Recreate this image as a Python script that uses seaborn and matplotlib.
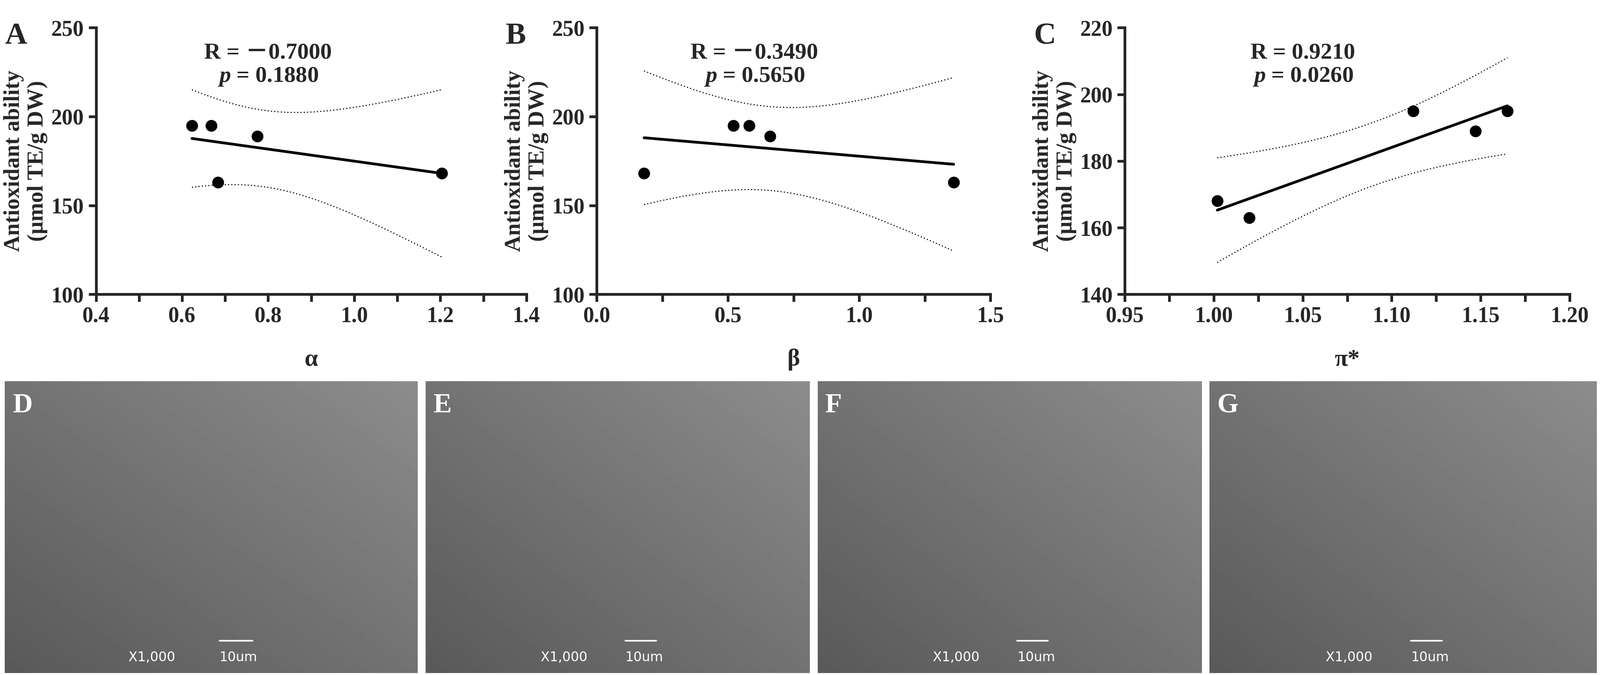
import numpy as np
import matplotlib
matplotlib.use("Agg")
import matplotlib.pyplot as plt
import seaborn as sns

sns.set_style("ticks")
plt.rcParams['font.family'] = ['Liberation Serif', 'Noto Sans CJK SC', 'DejaVu Serif']
plt.rcParams['font.weight'] = 'bold'
plt.rcParams['mathtext.fontset'] = 'custom'
plt.rcParams['mathtext.it'] = 'Liberation Serif:italic:bold'
plt.rcParams['mathtext.rm'] = 'Liberation Serif:bold'

y_vals = [195, 195, 189, 163, 168]
alpha_x = [0.623, 0.668, 0.775, 0.683, 1.203]
beta_x = [0.52, 0.58, 0.66, 1.36, 0.18]
pi_x = [1.112, 1.165, 1.147, 1.020, 1.002]
panels = [
    ("A", alpha_x, "α", (0.4, 1.4), [0.4, 0.6, 0.8, 1.0, 1.2, 1.4], "{:.1f}", (100, 250), [100, 150, 200, 250], "R = －0.7000", "0.1880"),
    ("B", beta_x, "β", (0.0, 1.5), [0.0, 0.5, 1.0, 1.5], "{:.1f}", (100, 250), [100, 150, 200, 250], "R = －0.3490", "0.5650"),
    ("C", pi_x, "π*", (0.95, 1.20), [0.95, 1.00, 1.05, 1.10, 1.15, 1.20], "{:.2f}", (140, 220), [140, 160, 180, 200, 220], "R = 0.9210", "0.0260"),
]
rects = [(0.060, 0.269), (0.373, 0.246), (0.703, 0.278)]

fig = plt.figure(figsize=(40.6, 17.14), dpi=100)
for (lab, x, xl, xlim, xt, fmt, ylim, yt, rtxt, ptxt), (l, w) in zip(panels, rects):
    ax = fig.add_axes([l, 0.564, w, 0.395])
    x = np.array(x); y = np.array(y_vals, float)
    sns.regplot(x=x, y=y, ax=ax, ci=None, color="black",
                scatter_kws=dict(s=420, zorder=3, alpha=1), line_kws=dict(lw=5))
    n = len(x); b, a = np.polyfit(x, y, 1)
    xs = np.linspace(x.min(), x.max(), 100)
    res = y - (a + b * x); s = np.sqrt(np.sum(res**2) / (n - 2))
    se = s * np.sqrt(1 / n + (xs - x.mean())**2 / np.sum((x - x.mean())**2))
    t = 3.182
    ax.plot(xs, a + b * xs + t * se, ls=(0, (1, 2)), color="black", lw=2)
    ax.plot(xs, a + b * xs - t * se, ls=(0, (1, 2)), color="black", lw=2)
    ax.set_xlim(xlim); ax.set_ylim(ylim)
    ax.set_xticks(xt); ax.set_xticklabels([fmt.format(v) for v in xt])
    ax.set_yticks(yt)
    ax.xaxis.set_minor_locator(matplotlib.ticker.AutoMinorLocator(2))
    ax.tick_params(labelsize=40, width=5, length=14, pad=8)
    ax.tick_params(which='minor', width=5, length=14)
    sns.despine(ax=ax)
    for sp in ax.spines.values():
        sp.set_linewidth(5)
    ax.set_xlabel(xl, fontsize=44, fontweight='bold', labelpad=40)
    ax.set_ylabel("Antioxidant ability\n(μmol TE/g DW)", fontsize=41, fontweight='bold', labelpad=6)
    ax.text(0.40, 0.86, rtxt + "\n" + r"$p$ = " + ptxt, transform=ax.transAxes,
            ha='center', va='center', fontsize=42, fontweight='bold', linespacing=1.2)
    fig.text(l - 0.057, 0.935, lab, fontsize=56, fontweight='bold')

imgs = [("D", 0.003, 0.258), ("E", 0.266, 0.240), ("F", 0.511, 0.240), ("G", 0.756, 0.242)]
gx, gy = np.meshgrid(np.linspace(0, 1, 200), np.linspace(0, 1, 80))
for lab, l, w in imgs:
    ax = fig.add_axes([l, 0.003, w, 0.432])
    ax.imshow(0.45 + 0.1 * gx - 0.1 * gy, cmap="gray", vmin=0, vmax=1, aspect='auto',
              extent=(0, 1, 0, 1))
    ax.set_xlim(0, 1); ax.set_ylim(0, 1)
    ax.axis('off')
    ax.text(0.02, 0.96, lab, color="white", fontsize=50, fontweight='bold', va='top')
    ax.text(0.30, 0.04, "X1,000", color="white", fontsize=24, family='DejaVu Sans', fontweight='normal')
    ax.text(0.52, 0.04, "10um", color="white", fontsize=24, family='DejaVu Sans', fontweight='normal')
    ax.plot([0.52, 0.60], [0.11, 0.11], color="white", lw=3)

fig.savefig("out.png", dpi=100)
